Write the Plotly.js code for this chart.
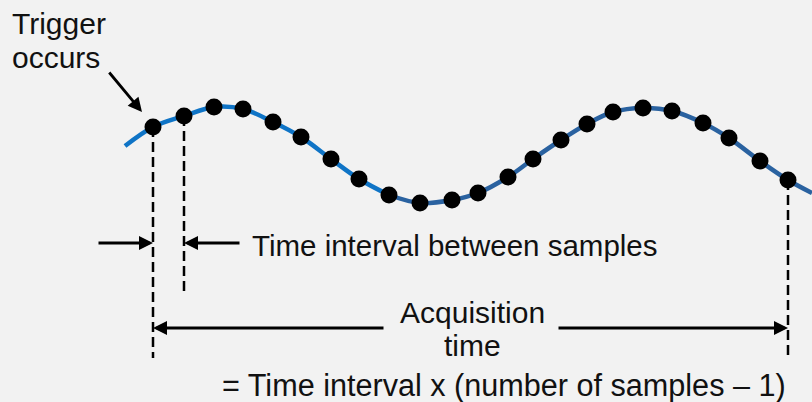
<!DOCTYPE html>
<html>
<head>
<meta charset="utf-8">
<script src="https://cdn.plot.ly/plotly-3.0.1.min.js"></script>
<style>html,body{margin:0;padding:0;background:#f2f2f2;}#chart{width:812px;height:402px;}</style>
</head>
<body>
<div id="chart"></div>
<script>
// Sample positions (time, signal level) (screen-like units)
const sampleTime = [153,184,214,243,273,301,331,359,389,420,452,478,508,533,561,587,613,643,672,703,729,760,788];
const sampleLevel = [127,116,107,109,122,137,159,179,195,203,200,193,177,159,140,124,112,108,111,123,138,161,180];
// Continuous waveform ends beyond the samples
const waveStart = {t: 125, v: 146};
const waveEnd = {t: 812, v: 193};
const splitIndex = 8; // colour of wave changes around this sample

const labels = {
  trigger1: "Trigger",
  trigger2: "occurs",
  interval: "Time interval between samples",
  acq1: "Acquisition",
  acq2: "time",
  formula: "= Time interval x (number of samples \u2013 1)"
};

const waveT = [waveStart.t].concat(sampleTime, [waveEnd.t]);
const waveV = [waveStart.v].concat(sampleLevel, [waveEnd.v]);
const cut = splitIndex + 2;

const traces = [
  {x: waveT.slice(0, cut), y: waveV.slice(0, cut), mode: 'lines',
   line: {color: '#0f74c6', width: 4.5, shape: 'spline', smoothing: 1}, hoverinfo: 'skip'},
  {x: waveT.slice(cut - 1), y: waveV.slice(cut - 1), mode: 'lines',
   line: {color: '#2a62a0', width: 4.5, shape: 'spline', smoothing: 1}, hoverinfo: 'skip'},
  {x: sampleTime, y: sampleLevel, mode: 'markers',
   marker: {color: '#000', size: 17}, hoverinfo: 'skip'}
];

const t0 = sampleTime[0], t1 = sampleTime[1], tN = sampleTime[sampleTime.length - 1];
const fontFamily = 'Liberation Sans, Arial, sans-serif';
const font = {family: fontFamily, size: 30, color: '#111'};
const dashStyle = {color: '#000', width: 2.5, dash: '10px,5px'};

const shapes = [
  {type: 'line', xref: 'x', yref: 'y', x0: t0, x1: t0, y0: sampleLevel[0], y1: 358, line: dashStyle, layer: 'below'},
  {type: 'line', xref: 'x', yref: 'y', x0: t1, x1: t1, y0: sampleLevel[1], y1: 292, line: dashStyle, layer: 'below'},
  {type: 'line', xref: 'x', yref: 'y', x0: tN, x1: tN, y0: sampleLevel[sampleLevel.length - 1], y1: 358, line: dashStyle, layer: 'below'}
];

function arrow(xTip, yTip, xTail, yTail) {
  return {x: xTip, y: yTip, ax: xTail, ay: yTail, xref: 'x', yref: 'y', axref: 'x', ayref: 'y',
    text: '', showarrow: true, arrowhead: 2, arrowsize: 1, arrowwidth: 2.8, arrowcolor: '#000', standoff: 0, startstandoff: 0};
}
function label(text, x, y, xanchor, size) {
  return {x: x, y: y, xref: 'x', yref: 'y', text: text, showarrow: false, xanchor: xanchor, yanchor: 'middle',
    font: {family: fontFamily, size: size || 30, color: '#111'}};
}

const annotations = [
  arrow(142, 112, 108, 71),
  arrow(t0, 243, 97, 243),
  arrow(t1, 243, 241, 243),
  arrow(t0, 328, 385, 328),
  arrow(tN, 328, 557, 328),
  label(labels.trigger1, 10, 23, 'left'),
  label(labels.trigger2, 10, 57, 'left'),
  label(labels.interval, 250, 245, 'left', 29.5),
  label(labels.acq1, 472, 312, 'center'),
  label(labels.acq2, 472, 345, 'center'),
  label(labels.formula, 220, 385, 'left', 30.6)
];

const layout = {
  width: 812, height: 402,
  margin: {l: 0, r: 0, t: 0, b: 0, pad: 0},
  paper_bgcolor: '#f2f2f2', plot_bgcolor: '#f2f2f2',
  showlegend: false,
  xaxis: {range: [0, 812], visible: false, fixedrange: true},
  yaxis: {range: [402, 0], visible: false, fixedrange: true},
  shapes: shapes,
  annotations: annotations
};

Plotly.newPlot('chart', traces, layout, {staticPlot: true, displayModeBar: false});
</script>
</body>
</html>
